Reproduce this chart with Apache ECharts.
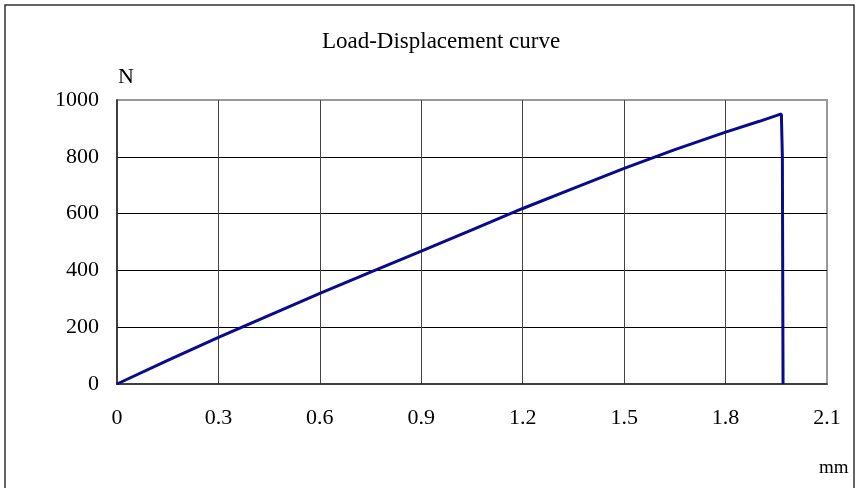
<!DOCTYPE html>
<html>
<head>
<meta charset="utf-8">
<script src="https://cdn.jsdelivr.net/npm/echarts@6/dist/echarts.min.js"></script>
<style>
  html, body { margin: 0; padding: 0; background: #fff; }
  #chart { width: 858px; height: 488px; }
</style>
</head>
<body>
<div id="chart"></div>
<script>
// displacement (mm) and load (N)
var displacement = [0, 0.15, 0.3, 0.45, 0.6, 0.75, 0.9, 1.05, 1.2, 1.35, 1.5, 1.65, 1.8, 1.9, 1.965, 1.968, 1.97];
var load = [0, 83, 164, 242, 319, 394, 468, 543, 618, 689, 759, 825, 887, 925, 951, 800, 0];

var FONT = "'Liberation Serif', 'Noto Sans CJK SC', serif";

var chart = echarts.init(document.getElementById("chart"));

var points = displacement.map(function (x, i) { return [x, load[i]]; });

var option = {
    animation: false,
    backgroundColor: '#fff',
    title: {
        text: 'Load-Displacement curve',
        left: 436,
        top: 25,
        textAlign: 'center',
        textStyle: { fontFamily: FONT, fontSize: 23, fontWeight: 'normal', color: '#000' }
    },
    grid: {
        left: 117, top: 100, right: 31, bottom: 104,
        show: true,
        borderColor: '#999',
        borderWidth: 2,
        backgroundColor: '#fff'
    },
    xAxis: {
        type: 'value',
        min: 0, max: 2.1, interval: 0.3,
        axisLine: { show: true, onZero: false, lineStyle: { color: '#222', width: 1.5 } },
        axisTick: { show: false },
        axisLabel: {
            margin: 23,
            fontFamily: FONT, fontSize: 22, color: '#000',
            formatter: function (v) { return v === 0 ? '0' : v.toFixed(1); }
        },
        splitLine: { show: true, showMaxLine: false, showMinLine: false, lineStyle: { color: '#444', width: 1 } }
    },
    yAxis: {
        type: 'value',
        min: 0, max: 1000, interval: 200,
        axisLine: { show: true, lineStyle: { color: '#222', width: 1.5 } },
        axisTick: { show: false },
        axisLabel: {
            margin: 18, fontFamily: FONT, fontSize: 22, color: '#000',
            formatter: function (v) { return String(v); }
        },
        splitLine: { show: true, showMaxLine: false, showMinLine: false, lineStyle: { color: '#000', width: 1 } }
    },
    series: [{
        type: 'line',
        data: points,
        showSymbol: false,
        symbol: 'none',
        lineStyle: { color: '#0a0a8c', width: 3 }
    }],
    graphic: [
        {
            type: 'rect',
            shape: { x: 5, y: 5, width: 849, height: 495 },
            style: { fill: 'none', stroke: '#333', lineWidth: 1.5 },
            silent: true
        },
        {
            type: 'text', left: 118, top: 66,
            style: { text: 'N', font: "22px 'Liberation Serif', serif", fill: '#000' }
        },
        {
            type: 'text', left: 819, top: 459,
            style: { text: 'mm', font: "19px 'Liberation Serif', serif", fill: '#000' }
        }
    ]
};

chart.setOption(option);
</script>
</body>
</html>
